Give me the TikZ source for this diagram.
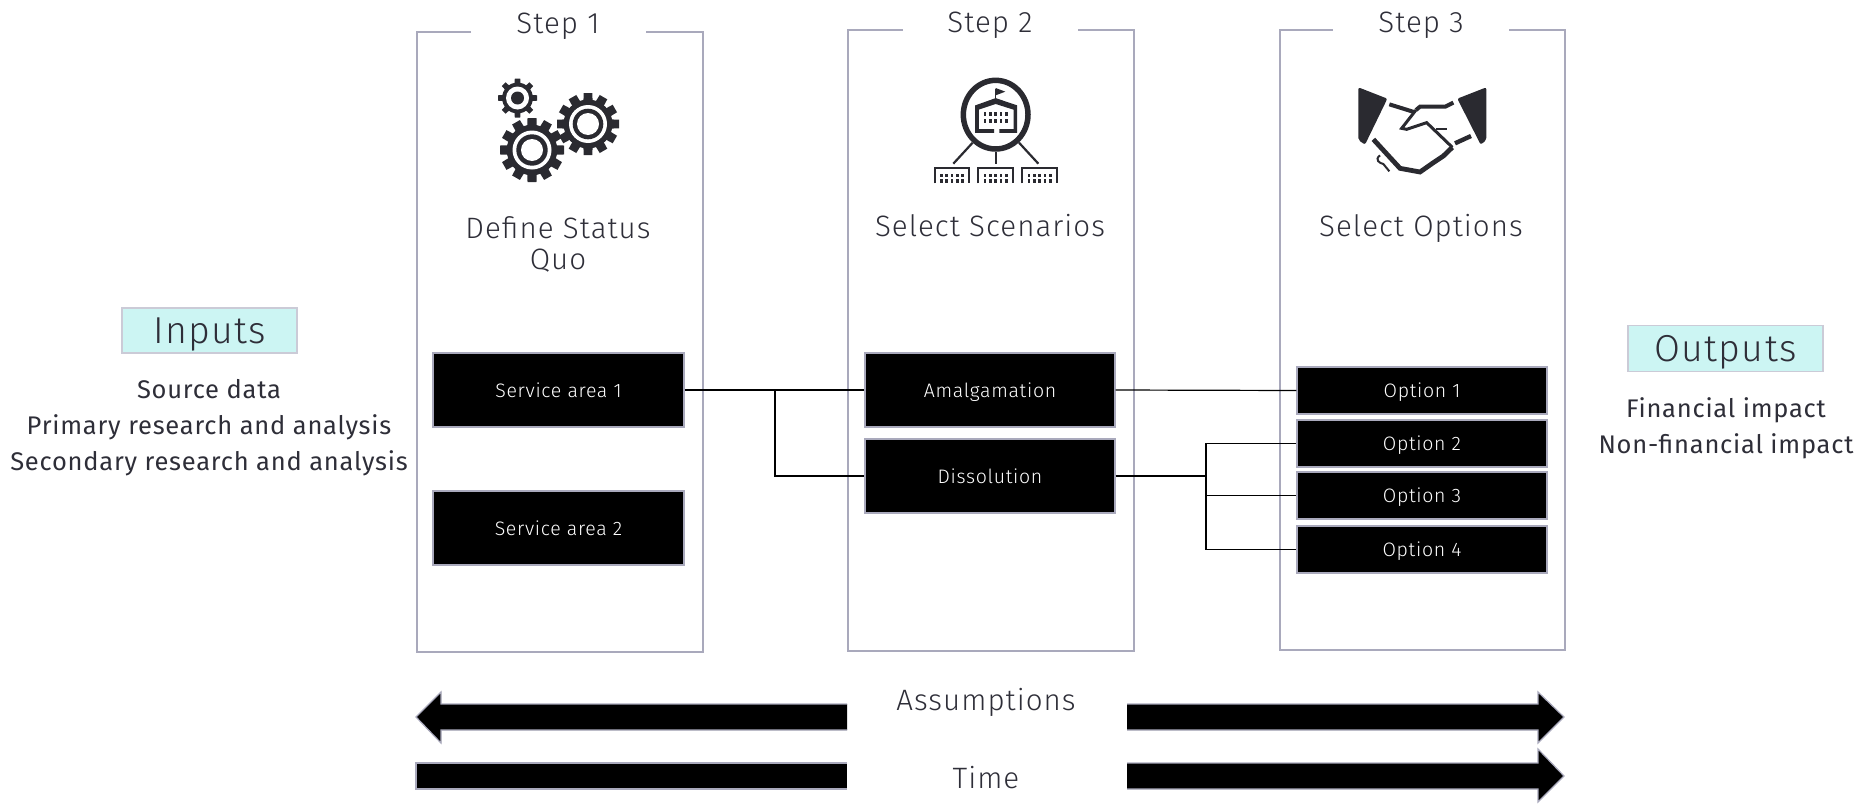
\documentclass[tikz,border=0pt]{standalone}
\usepackage{fontspec}
\setmainfont{Fira Sans}[LetterSpace=3]
\newfontfamily\lightf{Fira Sans Light}[LetterSpace=3.5]
\definecolor{ink}{HTML}{2E2E38}
\definecolor{edge}{HTML}{A9A9BC}
\definecolor{cyanbg}{HTML}{CCF5F3}
\definecolor{icon}{HTML}{2A2A30}
\tikzset{
  panel/.style={draw=edge,line width=1.6pt},
  blackbox/.style={draw=edge,fill=black,line width=1.4pt,text=white,inner sep=0pt,text height=14pt,text depth=0pt,font=\lightf\fontsize{19.5}{22}\selectfont},
  conn/.style={draw=black,line width=1.2pt},
  bigarrow/.style={draw=edge,fill=black,line width=1.2pt},
  head/.style={text=ink,font=\lightf\fontsize{29.5}{31}\selectfont,align=center,inner sep=0pt},
  body/.style={text=ink,font=\fontsize{25.5}{36}\selectfont,inner sep=0pt,anchor=base},
  tag/.style={draw=edge!60,fill=cyanbg,line width=1.4pt,text=ink,inner sep=0pt,text height=25pt,text depth=0pt,font=\lightf\fontsize{37.5}{40}\selectfont},
  icn/.style={draw=icon,line width=3pt,line cap=butt,line join=miter},
}
\newcommand{\gearicon}[5]{% x y outer radius, teeth, inner kind
  \begin{scope}[shift={(#1,#2)}]
    \foreach \k in {1,...,#4}{
      \fill[icon,rotate={360/#4*\k}] (-#3*0.17,0) -- (-#3*0.14,-#3) -- (#3*0.14,-#3) -- (#3*0.17,0) -- cycle;
    }
    \fill[icon] (0,0) circle[radius=#3*0.79];
    #5
  \end{scope}}
\begin{document}
\begin{tikzpicture}[x=1pt,y=-1pt]
\useasboundingbox (0,0) rectangle (1876,803);
% panels
\draw[panel] (471,32) -- (417,32) -- (417,652) -- (703,652) -- (703,32) -- (646,32);
\draw[panel] (903,30) -- (848,30) -- (848,651) -- (1134,651) -- (1134,30) -- (1078,30);
\draw[panel] (1333,30) -- (1280,30) -- (1280,650) -- (1565,650) -- (1565,30) -- (1509,30);
% titles
\node[head,anchor=base] (st1) at (558,33) {Step 1};
\node[head,anchor=base] (st2) at (990,32) {Step 2};
\node[head,anchor=base] (st3) at (1421,32) {Step 3};
\node[head] (def) at (558,244.5) {Define Status\\Quo};
\node[head,anchor=base] (sel) at (990,236) {Select Scenarios};
\node[head,anchor=base] (opt) at (1421,236) {Select Options};
% black boxes
\node[blackbox,minimum width=251pt,minimum height=74pt] (s1) at (558.5,390) {Service area 1};
\node[blackbox,minimum width=251pt,minimum height=74pt] (s2) at (558.5,528) {Service area 2};
\node[blackbox,minimum width=250pt,minimum height=74pt] (am) at (990,390) {Amalgamation};
\node[blackbox,minimum width=250pt,minimum height=74pt] (dis) at (990,476) {Dissolution};
\node[blackbox,minimum width=250pt,minimum height=47pt] (o1) at (1422,390.5) {Option 1};
\node[blackbox,minimum width=250pt,minimum height=47pt] (o2) at (1422,443.5) {Option 2};
\node[blackbox,minimum width=250pt,minimum height=47pt] (o3) at (1422,495.5) {Option 3};
\node[blackbox,minimum width=250pt,minimum height=47pt] (o4) at (1422,549.5) {Option 4};
% connectors
\coordinate (j1) at (775,390);
\coordinate (j2) at (1206,476);
\draw[conn] (s1.east) -- (am.west);
\draw[conn] (j1) |- (dis.west);
\draw[conn] (am.east) -- (o1.west);
\draw[conn] (dis.east) -- (j2);
\draw[conn] (j2) |- (o2.west);
\draw[conn] (j2) |- (o3.west);
\draw[conn] (j2) |- (o4.west);
% inputs / outputs
\node[tag,minimum width=175pt,minimum height=45pt] (inp) at (209.5,330.5) {Inputs};
\node[tag,minimum width=195pt,minimum height=46pt] (outp) at (1725.5,348.5) {Outputs};
\node[body] (il1) at (209,398) {Source data};
\node[body] (il2) at (209,434) {Primary research and analysis};
\node[body] (il3) at (209,470) {Secondary research and analysis};
\node[body] (ol1) at (1726,417) {Financial impact};
\node[body] (ol2) at (1726,453) {Non-financial impact};
% big arrows
\filldraw[bigarrow] (847,704) -- (441,704) -- (441,692) -- (416,717) -- (441,743) -- (441,730) -- (847,730);
\filldraw[bigarrow] (847,763) -- (416,763) -- (416,789) -- (847,789);
\filldraw[bigarrow] (1127,704) -- (1538,704) -- (1538,692) -- (1564,717) -- (1538,743) -- (1538,730) -- (1127,730);
\filldraw[bigarrow] (1127,763) -- (1538,763) -- (1538,749) -- (1564,776) -- (1538,802) -- (1538,789) -- (1127,789);
\node[head,anchor=base] (as) at (986,710) {Assumptions};
\node[head,anchor=base] (ti) at (986,788) {Time};
% gears icon
\gearicon{532}{150}{32}{12}{\fill[white] (0,0) circle[radius=19.5]; \fill[icon] (0,0) circle[radius=15.7]; \fill[white] (0,0) circle[radius=11];}
\gearicon{588}{124}{31}{12}{\fill[white] (0,0) circle[radius=19]; \fill[icon] (0,0) circle[radius=15.3]; \fill[white] (0,0) circle[radius=11];}
\gearicon{517.5}{98}{19.5}{8}{\fill[white] (0,0) circle[radius=11.5]; \fill[icon] (0,0) circle[radius=6.5];}
% building icon
\begin{scope}[shift={(840,0)},x=0.33333pt,y=-0.33333pt]
  \draw[icn,line width=5.5pt] (467,344) ellipse[x radius=97,y radius=103];
  \draw[icn,line width=3.6pt] (462,393) -- (411,393) -- (411,320) -- (467,300) -- (526,320) -- (526,393) -- (478,393);
  \draw[icn,line width=1.6pt] (467,298) -- (467,268);
  \fill[icon] (467,264) -- (496,275) -- (467,286) -- cycle;
  \fill[icon] (407,318) -- (467,296) -- (530,318) -- (530,332) -- (467,312) -- (407,332) -- cycle;
  \foreach \wx in {435,451,467,483,499}{
    \foreach \wy in {343,363}{ \fill[icon] (\wx-4,\wy-6) rectangle (\wx+4,\wy+6); }
  }
  \draw[icn,line width=2.2pt] (398,428) -- (340,491);
  \draw[icn,line width=2.2pt] (467,455) -- (467,491);
  \draw[icn,line width=2.2pt] (537,428) -- (595,491);
  \foreach \bx in {282,413,545}{
    \draw[icn,line width=2.2pt] (\bx+2,550) -- (\bx+2,505) -- (\bx+105,505) -- (\bx+105,550);
    \foreach \wi in {0,1,2,3,4}{
      \foreach \wy in {526,543}{ \fill[icon] (\bx+22+\wi*16-4,\wy-5) rectangle (\bx+22+\wi*16+4,\wy+5); }
    }
  }
\end{scope}
% handshake icon
\begin{scope}[shift={(1270,0)},x=0.33333pt,y=-0.33333pt]
  \fill[icon,rounded corners=2pt] (265,262) -- (352,296) -- (285,434) -- (265,420) -- cycle;
  \fill[icon,rounded corners=2pt] (649,262) -- (562,296) -- (632,434) -- (649,420) -- cycle;
  \draw[icn,line width=4pt] (358,313) -- (432,336);
  \draw[icn,line width=4pt] (550,308) -- (526,320) -- (450,320) -- (438,330);
  \draw[icn,line width=3pt] (438,330) -- (395,385) -- (410,388) -- (470,368) -- (547,442);
  \draw[icn,line width=4.8pt] (547,442) -- (520,468) -- (490,488) -- (450,516) -- (390,505) -- (310,418);
  \draw[icn,line width=2pt] (498,387) -- (530,387);
  \draw[icn,line width=4.4pt] (555,430) -- (603,408);
  \draw[icn,line width=2pt] (330,466) .. controls (312,480) and (330,490) .. (340,492) -- (358,514);
\end{scope}
\end{tikzpicture}
\end{document}
